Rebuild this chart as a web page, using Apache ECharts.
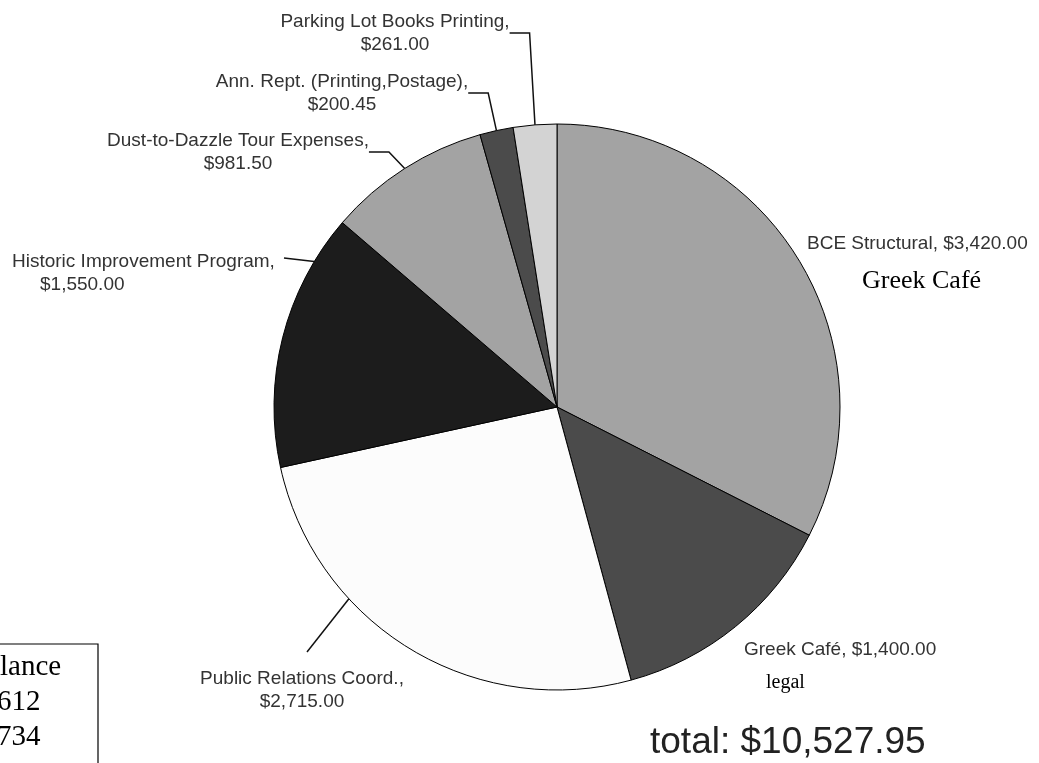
<!DOCTYPE html>
<html>
<head>
<meta charset="utf-8">
<script src="https://cdn.jsdelivr.net/npm/echarts@6/dist/echarts.min.js"></script>
<style>
  html, body { margin: 0; padding: 0; background: #fff; }
  #chart { width: 1039px; height: 763px; }
</style>
</head>
<body>
<div id="chart"></div>
<script>
const categories = [
  'BCE Structural',
  'Greek Café',
  'Public Relations Coord.',
  'Historic Improvement Program',
  'Dust-to-Dazzle Tour Expenses',
  'Ann. Rept. (Printing,Postage)',
  'Parking Lot Books Printing'
];
const amounts = [3420, 1400, 2715, 1550, 981.5, 200.45, 261];
const sliceColors = ['#a3a3a3', '#4b4b4b', '#fcfcfc', '#1c1c1c', '#a3a3a3', '#4b4b4b', '#d3d3d3'];
const boxLines = ['lance', '612', '734'];

const pieCenter = [557, 407];
const pieRadius = 283;

// label anchor spots (x, y, align) - by slice index
const labelPos = [
  [807, 244, 'left'],
  [744, 650, 'left'],
  [302, 690, 'center'],
  [12, 273, 'left'],
  [238, 152, 'center'],
  [342, 93, 'center'],
  [395, 33, 'center']
];
const oneLine = [true, true, false, false, false, false, false];
// straight leader lines: start near the label, heading toward the aim point, stop at the rim
const straightLead = {
  2: [[307, 652], [348, 600]],
  3: [[284, 258], [343, 265]]
};

const money = (v) => '$' + v.toLocaleString('en-US', { minimumFractionDigits: 2, maximumFractionDigits: 2 });
const total = amounts.reduce((a, b) => a + b, 0);

// where the segment start->aim meets the pie rim
function rimHit(start, aim) {
  const ox = start[0] - pieCenter[0], oy = start[1] - pieCenter[1];
  const dx = aim[0] - start[0], dy = aim[1] - start[1];
  const a = dx * dx + dy * dy;
  const b = 2 * (ox * dx + oy * dy);
  const c = ox * ox + oy * oy - pieRadius * pieRadius;
  const t = (-b - Math.sqrt(Math.max(0, b * b - 4 * a * c))) / (2 * a);
  return [start[0] + dx * t, start[1] + dy * t];
}

const chart = echarts.init(document.getElementById('chart'));

const option = {
  backgroundColor: '#fff',
  animation: false,
  textStyle: { fontFamily: 'Liberation Sans, Arial, sans-serif' },
  series: [
    {
      type: 'pie',
      center: pieCenter,
      radius: pieRadius,
      startAngle: 90,
      clockwise: true,
      avoidLabelOverlap: false,
      itemStyle: { borderColor: '#000', borderWidth: 1 },
      label: {
        show: true,
        position: 'outside',
        color: '#333',
        fontSize: 19,
        lineHeight: 23,
        formatter: (p) => {
          if (oneLine[p.dataIndex]) return p.name + ', ' + money(p.value);
          if (p.dataIndex === 3) return '{a|' + p.name + ',}\n{b|' + money(p.value) + '}';
          return p.name + ',\n' + money(p.value);
        },
        rich: {
          a: { fontSize: 19, lineHeight: 23, color: '#333' },
          b: { fontSize: 19, lineHeight: 23, color: '#333', padding: [0, 0, 0, 28] }
        }
      },
      labelLine: {
        show: true,
        length: 10,
        length2: 20,
        smooth: false,
        lineStyle: { color: '#111', width: 1.5 }
      },
      labelLayout: (p) => {
        const q = labelPos[p.dataIndex];
        const out = { x: q[0], y: q[1], align: q[2], verticalAlign: 'middle' };
        const s = straightLead[p.dataIndex];
        if (s) out.labelLinePoints = [rimHit(s[0], s[1]), s[0].slice(), s[0].slice()];
        return out;
      },
      emphasis: { disabled: true },
      data: categories.map((name, i) => ({
        name: name,
        value: amounts[i],
        itemStyle: { color: sliceColors[i] },
        labelLine: { show: !oneLine[i] }
      }))
    }
  ],
  graphic: [
    {
      type: 'text',
      left: 862,
      top: 268,
      style: { text: 'Greek Café', font: '26px "Liberation Serif", "Times New Roman", serif', fill: '#000' }
    },
    {
      type: 'text',
      left: 766,
      top: 673,
      style: { text: 'legal', font: '20px "Liberation Serif", "Times New Roman", serif', fill: '#000' }
    },
    {
      type: 'text',
      left: 650,
      top: 724,
      style: { text: 'total: ' + money(total), font: '37px "Liberation Sans", Arial, sans-serif', fill: '#222' }
    },
    {
      type: 'rect',
      shape: { x: -5, y: 644, width: 103, height: 140 },
      style: { fill: 'none', stroke: '#000', lineWidth: 1.2 }
    },
    {
      type: 'group',
      children: boxLines.map((t, i) => ({
        type: 'text',
        x: i === 0 ? 0 : -3,
        y: 682 + i * 35,
        style: {
          text: t,
          font: '29px "Liberation Serif", "Times New Roman", serif',
          fill: '#000',
          textVerticalAlign: 'bottom'
        }
      }))
    }
  ]
};

chart.setOption(option);
</script>
</body>
</html>
